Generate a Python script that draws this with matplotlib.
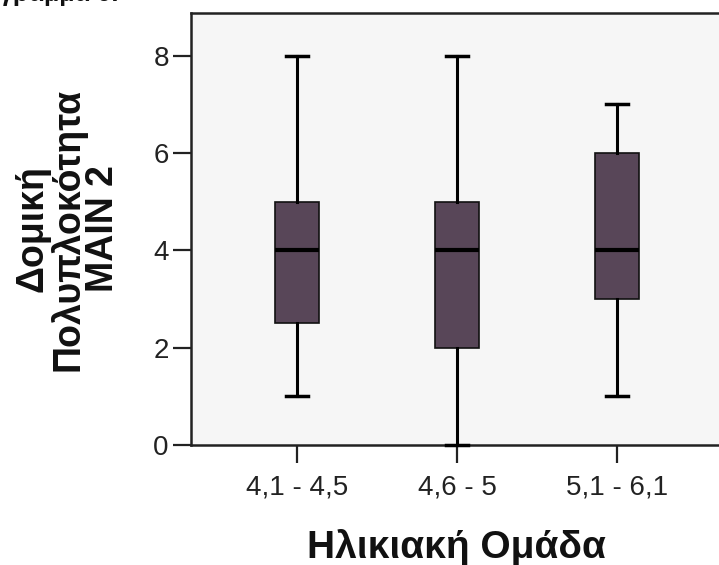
import matplotlib
matplotlib.use("Agg")
import matplotlib.pyplot as plt

categories = ["4,1 - 4,5", "4,6 - 5", "5,1 - 6,1"]
whisker_low = [1, 0, 1]
q1 = [2.5, 2, 3]
median = [4, 4, 4]
q3 = [5, 5, 6]
whisker_high = [8, 8, 7]
yticks = [0, 2, 4, 6, 8]

plt.rcParams['font.family'] = ['Liberation Sans', 'DejaVu Sans']

W, H = 719, 565
fig = plt.figure(figsize=(W / 100, H / 100), dpi=100)
ax = fig.add_axes([191 / W, 120 / H, (723 - 191) / W, 432 / H])
ax.set_facecolor('#f6f6f6')

stats = []
for lab, lo, a, m, b, hi in zip(categories, whisker_low, q1, median, q3, whisker_high):
    stats.append(dict(label=lab, whislo=lo, q1=a, med=m, q3=b, whishi=hi, fliers=[]))

pos = [1, 2, 3]
res = ax.bxp(stats, positions=pos, widths=0.27, patch_artist=True, showfliers=False,
             boxprops=dict(facecolor='#584658', edgecolor='#111111', linewidth=1.2),
             medianprops=dict(color='black', linewidth=3.0, solid_capstyle='butt'),
             whiskerprops=dict(color='black', linewidth=2.2),
             capprops=dict(color='black', linewidth=2.5),
             capwidths=0.14)
for key in ('whiskers', 'caps', 'medians', 'boxes'):
    for art in res[key]:
        art.set_clip_on(False)
        art.set_zorder(3)

ax.set_xlim(0.3375, 3.6625)
ax.set_ylim(0, 8.88)
ax.set_yticks(yticks)
ax.set_yticklabels([str(v) for v in yticks])
ax.set_xticks(pos)
ax.set_xticklabels(categories)

for s in ax.spines.values():
    s.set_linewidth(1.8)
    s.set_color('#222222')
ax.tick_params(axis='both', direction='out', length=13, width=1.6, color='#222222',
               labelsize=20, labelcolor='#222222')
ax.tick_params(axis='x', pad=8)
ax.tick_params(axis='y', pad=3)

fig.text(68 / W, 1 - 229 / H, "Δομική\nΠολυπλοκότητα\nMAIN 2", rotation=90,
         ha='center', va='center', multialignment='center', fontsize=27,
         fontweight='bold', linespacing=0.95, color='#111111')
fig.text(456 / W, (H - 558) / H, "Ηλικιακή Ομάδα", ha='center', va='baseline',
         fontsize=28, fontweight='bold', color='#111111')
fig.text(-41 / W, 1 - 1 / H, "Διάγραμμα 6:", ha='left', va='baseline',
         fontsize=18, fontweight='bold', color='#111111')

fig.savefig("out.png", dpi=100)
